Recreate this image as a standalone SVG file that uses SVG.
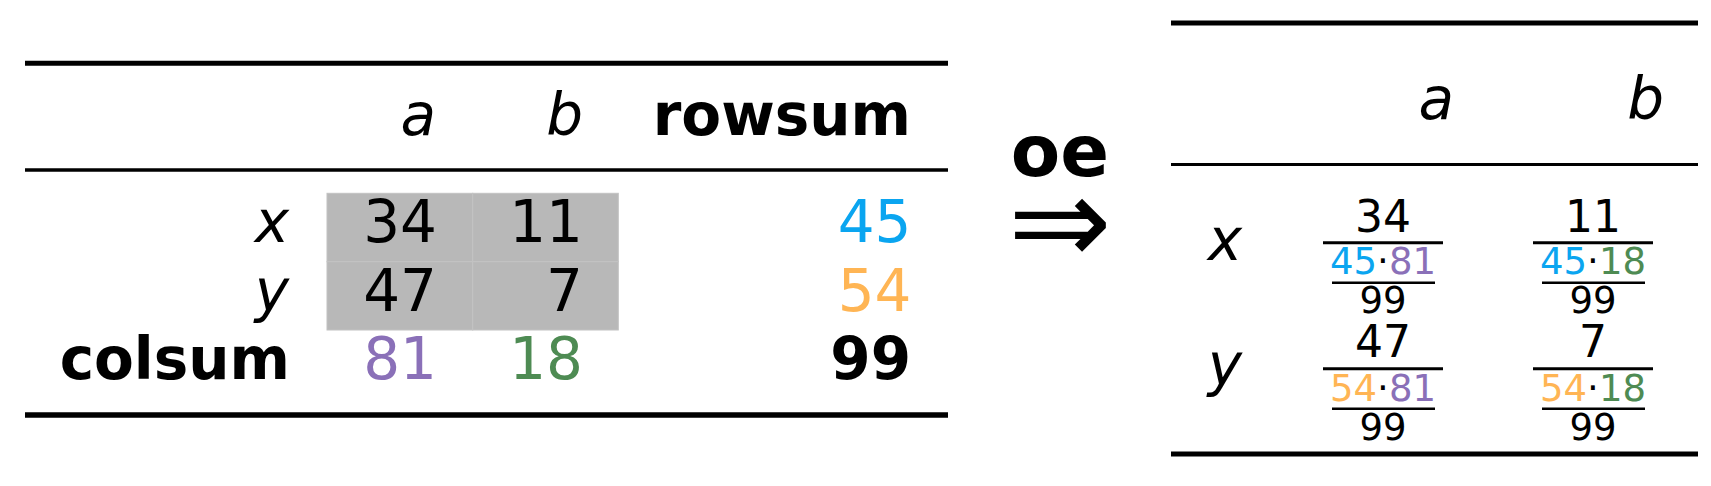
<svg xmlns="http://www.w3.org/2000/svg" width="1711" height="486" viewBox="0 0 1711 486">
<style>
text{font-family:"DejaVu Sans","Liberation Sans",sans-serif;fill:#000}
.t{font-size:58px}
.it{font-style:italic}
.b{font-weight:bold}
.e{text-anchor:end}
.m{text-anchor:middle}
.num{font-size:44px;text-anchor:middle}
.den{font-size:37px;text-anchor:middle}
.rule{stroke:#000;fill:none}
.cell{fill:#b8b8b8;stroke:#c2c2c2;stroke-width:1}
.blue{fill:#0aa5f0}
.orange{fill:#ffb554}
.purple{fill:#8a70b8}
.green{fill:#4e8b53}
</style>
<rect width="1711" height="486" fill="#fff"/>
<g id="left-table">
  <g id="left-rules">
    <line class="rule" x1="25" y1="63.3" x2="948" y2="63.3" stroke-width="5"/>
    <line class="rule" x1="25" y1="170" x2="948" y2="170" stroke-width="3.3"/>
    <line class="rule" x1="25" y1="415" x2="948" y2="415" stroke-width="5.3"/>
  </g>
  <g id="left-cells">
    <rect class="cell" x="327" y="193.3" width="145.7" height="68.4"/>
    <rect class="cell" x="472.7" y="193.3" width="145.6" height="68.4"/>
    <rect class="cell" x="327" y="261.7" width="145.7" height="68.3"/>
    <rect class="cell" x="472.7" y="261.7" width="145.6" height="68.3"/>
  </g>
  <g id="left-header">
    <text class="t it e" x="436" y="135">a</text>
    <text class="t it e" x="583" y="135">b</text>
    <text class="t b e" x="911" y="135">rowsum</text>
  </g>
  <g id="left-row-x">
    <text class="t it e" x="289" y="241.7">x</text>
    <text class="t e" x="437" y="241.7">34</text>
    <text class="t e" x="583" y="241.7">11</text>
    <text class="t e blue" x="911.5" y="241.7">45</text>
  </g>
  <g id="left-row-y">
    <text class="t it e" x="289" y="310.7">y</text>
    <text class="t e" x="437" y="310.7">47</text>
    <text class="t e" x="583" y="310.7">7</text>
    <text class="t e orange" x="911.5" y="310.7">54</text>
  </g>
  <g id="left-row-colsum">
    <text class="t b e" x="290" y="379">colsum</text>
    <text class="t e purple" x="437" y="379">81</text>
    <text class="t e green" x="583" y="379">18</text>
    <text class="t b e" x="911" y="379">99</text>
  </g>
</g>
<g id="transform-arrow">
  <text class="b m" x="1060" y="176" font-size="72">oe</text>
  <text class="m" x="1060" y="263.5" font-size="124">⇒</text>
</g>
<g id="right-table">
  <g id="right-rules">
    <line class="rule" x1="1171" y1="23" x2="1698" y2="23" stroke-width="5"/>
    <line class="rule" x1="1171" y1="164.5" x2="1698" y2="164.5" stroke-width="3"/>
    <line class="rule" x1="1171" y1="454" x2="1698" y2="454" stroke-width="5"/>
  </g>
  <g id="right-header">
    <text class="t it e" x="1454" y="119.3">a</text>
    <text class="t it e" x="1664" y="119.3">b</text>
  </g>
  <g id="right-row-x">
    <text class="t it m" x="1225" y="260">x</text>
    <g id="frac-xa">
      <text class="num" x="1383" y="231.7">34</text>
      <line class="rule" x1="1323" y1="242.7" x2="1443" y2="242.7" stroke-width="3"/>
      <text class="den" x="1383" y="274.3"><tspan class="blue">45</tspan>·<tspan class="purple">81</tspan></text>
      <line class="rule" x1="1332" y1="282.7" x2="1435" y2="282.7" stroke-width="2.5"/>
      <text class="den" x="1383" y="313.3">99</text>
    </g>
    <g id="frac-xb">
      <text class="num" x="1593" y="231.7">11</text>
      <line class="rule" x1="1533" y1="242.7" x2="1653" y2="242.7" stroke-width="3"/>
      <text class="den" x="1593" y="274.3"><tspan class="blue">45</tspan>·<tspan class="green">18</tspan></text>
      <line class="rule" x1="1542" y1="282.7" x2="1645" y2="282.7" stroke-width="2.5"/>
      <text class="den" x="1593" y="313.3">99</text>
    </g>
  </g>
  <g id="right-row-y">
    <text class="t it m" x="1225" y="385">y</text>
    <g id="frac-ya">
      <text class="num" x="1383" y="356.7">47</text>
      <line class="rule" x1="1323" y1="368.7" x2="1443" y2="368.7" stroke-width="3"/>
      <text class="den" x="1383" y="400.7"><tspan class="orange">54</tspan>·<tspan class="purple">81</tspan></text>
      <line class="rule" x1="1332" y1="408.7" x2="1435" y2="408.7" stroke-width="2.5"/>
      <text class="den" x="1383" y="440">99</text>
    </g>
    <g id="frac-yb">
      <text class="num" x="1593" y="356.7">7</text>
      <line class="rule" x1="1533" y1="368.7" x2="1653" y2="368.7" stroke-width="3"/>
      <text class="den" x="1593" y="400.7"><tspan class="orange">54</tspan>·<tspan class="green">18</tspan></text>
      <line class="rule" x1="1542" y1="408.7" x2="1645" y2="408.7" stroke-width="2.5"/>
      <text class="den" x="1593" y="440">99</text>
    </g>
  </g>
</g>
</svg>
